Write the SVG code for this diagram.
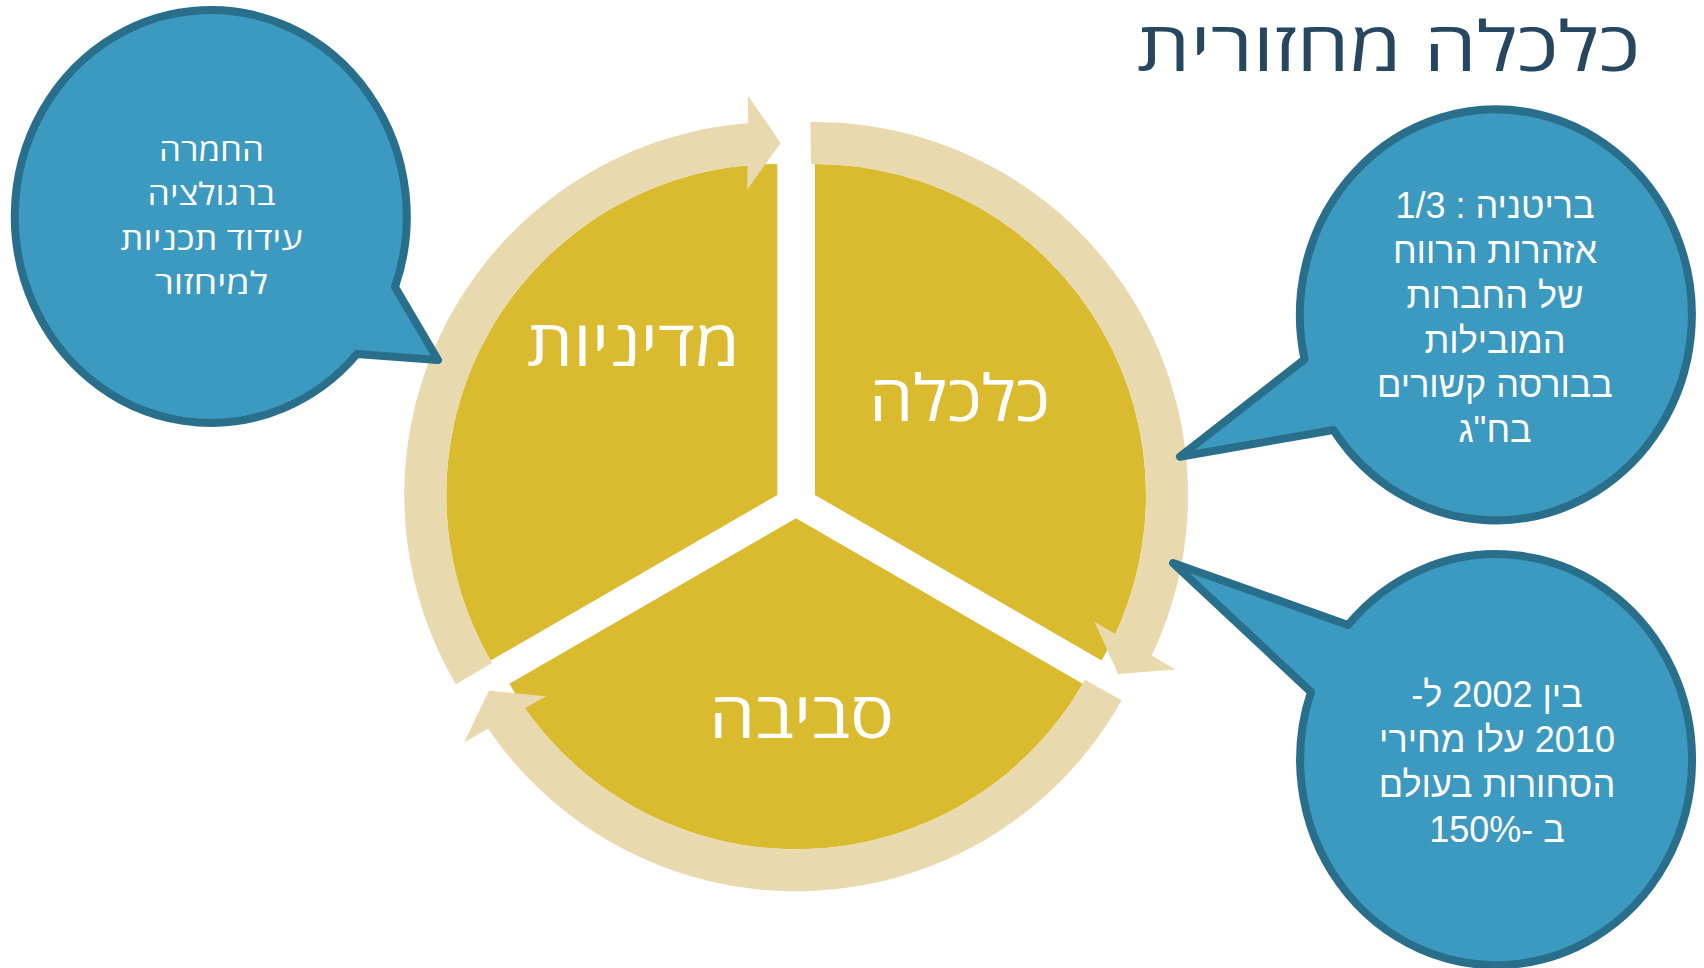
<svg xmlns="http://www.w3.org/2000/svg" width="1704" height="968" viewBox="0 0 1704 968">
<style>
.slice{fill:#DABA2E}
.ring{fill:#E9D9AE}
.bub{fill:#3C99BF;stroke:#296F8C;stroke-width:8;stroke-linejoin:round}
.lbl{font-family:"Open Sans","Noto Sans","DejaVu Sans",sans-serif;fill:#FFFFFF;font-size:64px;text-anchor:middle;direction:rtl}
.bt{font-family:"Liberation Sans",Arial,sans-serif;fill:#FFFFFF;font-size:36px;text-anchor:middle;direction:rtl}
.bt2{font-family:"Open Sans","Noto Sans","DejaVu Sans",sans-serif;fill:#FFFFFF;font-size:31px;text-anchor:middle;direction:rtl}
.title{font-family:"Open Sans","Noto Sans","DejaVu Sans",sans-serif;fill:#27465F;font-size:69px;text-anchor:middle;direction:rtl}
</style>
<rect width="1704" height="968" fill="#FFFFFF"/>
<g id="title"><text class="title" x="1388.5" y="71" textLength="503" lengthAdjust="spacingAndGlyphs">כלכלה מחזורית</text></g>
<g id="slice-economy">
<path class="slice" d="M815 495 L815 164 A331 331 0 0 1 1101.66 660.5 Z"/>
<text class="lbl" x="959.5" y="421" textLength="181" lengthAdjust="spacingAndGlyphs">כלכלה</text>
</g>
<g id="slice-policy">
<path class="slice" d="M777.3 495 L490.65 660.5 A331 331 0 0 1 777.3 164 Z"/>
<text class="lbl" x="633.5" y="366" textLength="213" lengthAdjust="spacingAndGlyphs">מדיניות</text>
</g>
<g id="slice-environment">
<path class="slice" d="M796 518.3 L1082.65 683.8 A331 331 0 0 1 509.35 683.8 Z"/>
<text class="lbl" x="801.5" y="738" textLength="185" lengthAdjust="spacingAndGlyphs">סביבה</text>
</g>
<g id="connectors">
<path class="ring" d="M492.10 663.0 L455.91 684.31 A373 373 0 0 1 747.87 123.16 L748.13 95.70 L780.68 143.02 L747.23 189.70 L747.47 165.35 A331 331 0 0 0 492.10 663.0 Z"/>
<path class="ring" d="M810.96 164.02 L810.44 122.03 A373 373 0 0 1 1151.73 655.44 L1175.38 669.41 L1118.13 673.94 L1094.44 621.63 L1115.40 634.0 A331 331 0 0 0 810.96 164.02 Z"/>
<path class="ring" d="M1084.94 679.78 L1121.60 700.27 A373 373 0 0 1 488.11 728.86 L464.19 742.34 L489.03 690.56 L546.17 696.34 L524.93 708.25 A331 331 0 0 0 1084.94 679.78 Z"/>
</g>
<g id="bubble-left">
<path class="bub" d="M395 287 L438 360 L357 354 A196 206.5 0 1 1 395 287 Z"/>
<text class="bt2" x="211.5" y="161" textLength="105" lengthAdjust="spacingAndGlyphs">החמרה</text>
<text class="bt2" x="211.5" y="205" textLength="128" lengthAdjust="spacingAndGlyphs">ברגולציה</text>
<text class="bt2" x="211.5" y="250" textLength="182" lengthAdjust="spacingAndGlyphs">עידוד תכניות</text>
<text class="bt2" x="211.5" y="294" textLength="113" lengthAdjust="spacingAndGlyphs">למיחזור</text>
</g>
<g id="bubble-britain">
<path class="bub" d="M1304.5 359.3 L1180 456.7 L1333.5 430 A196 205.5 0 1 0 1304.5 359.3 Z"/>
<text class="bt" x="1495" y="218">בריטניה : 1/3</text>
<text class="bt" x="1495" y="263">אזהרות הרווח</text>
<text class="bt" x="1495" y="308">של החברות</text>
<text class="bt" x="1495" y="353">המובילות</text>
<text class="bt" x="1495" y="397">בבורסה קשורים</text>
<text class="bt" x="1495" y="442">בח&quot;ג</text>
</g>
<g id="bubble-prices">
<path class="bub" d="M1348 625 L1173 563 L1311 692 A196 205.5 0 1 0 1348 625 Z"/>
<text class="bt" x="1497" y="707">בין 2002 ל-</text>
<text class="bt" x="1497" y="752">2010 עלו מחירי</text>
<text class="bt" x="1497" y="797">הסחורות בעולם</text>
<text class="bt" x="1497" y="842">ב -150%</text>
</g>
</svg>
